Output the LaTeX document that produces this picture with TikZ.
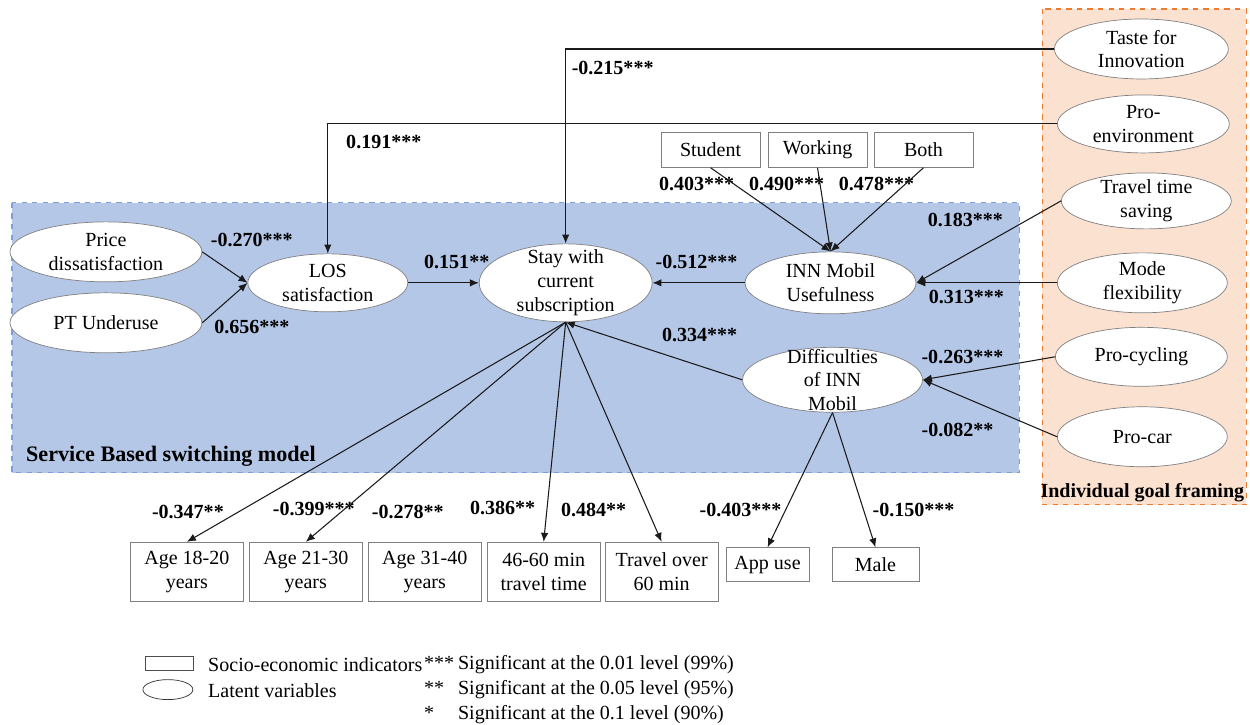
\documentclass[tikz,border=0pt]{standalone}
\usepackage{fontspec}
\setmainfont{Liberation Serif}
\usetikzlibrary{shapes.geometric,arrows.meta}
\definecolor{modelblue}{HTML}{B4C7E7}
\definecolor{modeledge}{HTML}{7F9ED8}
\definecolor{goalpeach}{HTML}{FBE1D0}
\definecolor{goaledge}{HTML}{ED7D31}
\definecolor{shapeedge}{HTML}{808080}
\definecolor{linkcol}{HTML}{1A1A1A}
\begin{document}
\begin{tikzpicture}[x=0.2mm,y=-0.2mm,
  font=\fontsize{11.4}{13.5}\selectfont,
  latent/.style={ellipse,draw=shapeedge,fill=white,align=center,inner xsep=0pt,inner ysep=-10pt},
  indicator/.style={rectangle,draw=shapeedge,fill=white,align=center,inner sep=0pt},
  coef/.style={font=\fontsize{11.4}{13.5}\selectfont\bfseries,inner sep=0pt},
  link/.style={draw=linkcol,line width=0.6pt,-{Latex[length=1.8mm,width=1.5mm]}}]

\fill[white] (0,0) rectangle (1250,725);
\filldraw[fill=modelblue,draw=modeledge,dashed,line width=0.6pt] (12,203) rectangle (1020,473);
\filldraw[fill=goalpeach,draw=goaledge,dashed,line width=0.8pt] (1043,9) rectangle (1247,505);
\node[anchor=west,font=\fontsize{12.6}{14}\selectfont\bfseries] (modeltitle) at (20,457) {Service Based switching model};
\node[font=\fontsize{11.4}{13.5}\selectfont\bfseries] (goaltitle) at (1143,493) {Individual goal framing};

\node[latent,minimum width=38.4mm,minimum height=12mm] (price) at (106,252) {Price\\dissatisfaction};
\node[latent,minimum width=38.4mm,minimum height=12mm] (pt) at (106,323) {PT Underuse};
\node[latent,minimum width=32mm,minimum height=11.6mm] (los) at (328,283) {LOS\\satisfaction};
\node[latent,minimum width=34.6mm,minimum height=15.6mm] (stay) at (566,283) {Stay with\\current\\subscription};
\node[latent,minimum width=34.2mm,minimum height=12.4mm] (inn) at (831,283) {INN Mobil\\Usefulness};
\node[latent,minimum width=36mm,minimum height=13mm] (diff) at (833,380) {Difficulties\\of INN\\Mobil};

\node[latent,minimum width=34.8mm,minimum height=12mm] (taste) at (1142,49) {Taste for\\Innovation};
\node[latent,minimum width=34.4mm,minimum height=11.6mm] (proenv) at (1144,124) {Pro-\\environment};
\node[latent,minimum width=34mm,minimum height=11.2mm] (travel) at (1147,201) {Travel time\\saving};
\node[latent,minimum width=34mm,minimum height=12mm] (mode) at (1143,283) {Mode\\flexibility};
\node[latent,minimum width=34.4mm,minimum height=11.8mm] (procycling) at (1142,357) {Pro-cycling};
\node[latent,minimum width=34mm,minimum height=12mm] (procar) at (1143,437) {Pro-car};

\foreach \name/\x/\txt in {student/711/Student,working/818/Working,both/924/Both}
{
\node[indicator,minimum width=19.8mm,minimum height=7mm] (\name) at (\x,150) {\txt};
}
\foreach \name/\x/\txt in {age1/187/{Age 18-20\\years},age2/306/{Age 21-30\\years},age3/425/{Age 31-40\\years},tt/544/{46-60 min\\travel time},over60/662/{Travel over\\60 min}}
{
\node[indicator,minimum width=22.6mm,minimum height=11.8mm] (\name) at (\x,572) {\txt};
}
\node[indicator,minimum width=16.6mm,minimum height=6.8mm] (app) at (768,565) {App use};
\node[indicator,minimum width=17.4mm,minimum height=6.8mm] (male) at (876,565) {Male};

\foreach \x/\y/\c [count=\i] in {252/240/-0.270***,252/327/0.656***,457/262/0.151**,613/68/-0.215***,384/142/0.191***,697/262/-0.512***,700/335/0.334***,697/184/0.403***,787/184/0.490***,877/184/0.478***,966/220/0.183***,967/297/0.313***,963/357/-0.263***,958/430/-0.082**,188/512/-0.347**,314/509/-0.399***,408/512/-0.278**,503/508/0.386**,594/510/0.484**,741/510/-0.403***,914/510/-0.150***}
{
\node[coef] (coef\i) at (\x,\y) {\c};
}

\draw[link] (price.east) -- (los.west);
\draw[link] (pt.east) -- (los.west);
\draw[link] (los) -- (stay);
\draw[link] (taste.west) -| (stay.north);
\draw[link] (proenv.west) -| (los.north);
\draw[link] (inn) -- (stay);
\foreach \b in {student,working,both}
\draw[link] (\b.south) -- (inn.north);
\draw[link] (travel.west) -- (inn.east);
\draw[link] (mode.west) -- (inn.east);
\draw[link] (procycling.west) -- (diff.east);
\draw[link] (procar.west) -- (diff.east);
\draw[link] (diff.west) -- (stay.south);
\foreach \b in {age1,age2,tt,over60}
\draw[link] (stay.south) -- (\b.north);
\foreach \b in {app,male}
\draw[link] (diff.south) -- (\b.north);

\node[indicator,draw=black!70,minimum width=9.6mm,minimum height=2.8mm] (keybox) at (169,664) {};
\node[latent,draw=black!80,minimum width=10mm,minimum height=4mm] (keyell) at (168,690) {};
\node[anchor=base west,inner sep=0pt] (keyboxtxt) at (208,672) {Socio-economic indicators};
\node[anchor=base west,inner sep=0pt] (keyelltxt) at (208,698) {Latent variables};
\foreach \s/\t/\y [count=\i] in {***/{0.01 level (99\%)}/670,**/{0.05 level (95\%)}/695,*/{0.1 level (90\%)}/720}
{
\node[anchor=base west,inner sep=0pt] (star\i) at (424,\y) {\s};
\node[anchor=base west,inner sep=0pt] (sig\i) at (458,\y) {Significant at the \t};
}
\end{tikzpicture}
\end{document}
